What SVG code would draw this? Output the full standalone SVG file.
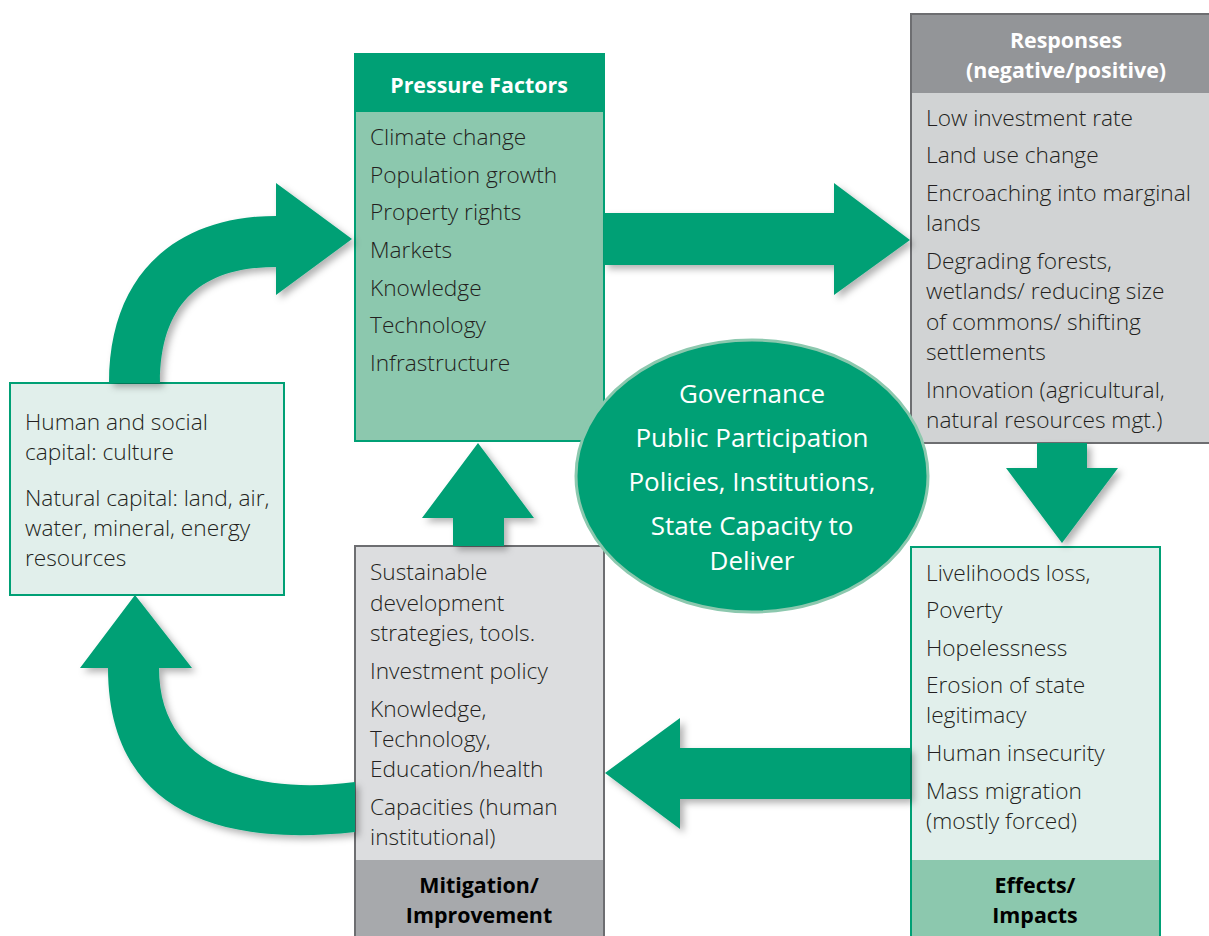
<svg xmlns="http://www.w3.org/2000/svg" width="1209" height="936" viewBox="0 0 1209 936">
<style>
.body{font-family:"Open Sans","Noto Sans","Liberation Sans",sans-serif;font-size:22.7px;font-weight:300;fill:#231f20}
.head{font-family:"Open Sans","Noto Sans","Liberation Sans",sans-serif;font-size:21.4px;font-weight:700;text-anchor:middle}
.white{fill:#ffffff}
.black{fill:#000000}
.gov{font-family:"Open Sans","Noto Sans","Liberation Sans",sans-serif;font-size:26px;fill:#ffffff;text-anchor:middle}
.arrow{fill:#00a075;filter:url(#sh)}
</style>
<defs>
<filter id="sh" x="-20%" y="-20%" width="150%" height="150%">
<feDropShadow dx="4" dy="4" stdDeviation="3.5" flood-color="#000" flood-opacity="0.3"/>
</filter>
</defs>
<rect width="1209" height="936" fill="#ffffff"/>

<g id="pressure">
<rect x="355" y="54" width="249" height="387" fill="#8cc8ae" stroke="#00a075" stroke-width="2"/>
<rect x="355" y="54" width="249" height="58" fill="#00a075"/>
<text class="head white" x="479" y="93">Pressure Factors</text>
<text class="body" x="370" y="145">Climate change</text>
<text class="body" x="370" y="183">Population growth</text>
<text class="body" x="370" y="220">Property rights</text>
<text class="body" x="370" y="258">Markets</text>
<text class="body" x="370" y="296">Knowledge</text>
<text class="body" x="370" y="333">Technology</text>
<text class="body" x="370" y="371">Infrastructure</text>
</g>

<g id="responses">
<rect x="911" y="14" width="300" height="429" fill="#d1d3d4" stroke="#6d6e71" stroke-width="2"/>
<rect x="912" y="15" width="298" height="78" fill="#939598"/>
<text class="head white" x="1066" y="48">Responses</text>
<text class="head white" x="1066" y="78">(negative/positive)</text>
<text class="body" x="926" y="126">Low investment rate</text>
<text class="body" x="926" y="163">Land use change</text>
<text class="body" x="926" y="201">Encroaching into marginal</text>
<text class="body" x="926" y="231">lands</text>
<text class="body" x="926" y="269">Degrading forests,</text>
<text class="body" x="926" y="299">wetlands/ reducing size</text>
<text class="body" x="926" y="330">of commons/ shifting</text>
<text class="body" x="926" y="360">settlements</text>
<text class="body" x="926" y="398">Innovation (agricultural,</text>
<text class="body" x="926" y="428">natural resources mgt.)</text>
</g>

<g id="capital">
<rect x="10" y="383" width="274" height="212" fill="#e1efeb" stroke="#00a075" stroke-width="2"/>
<text class="body" x="25" y="430">Human and social</text>
<text class="body" x="25" y="460">capital: culture</text>
<text class="body" x="25" y="506">Natural capital: land, air,</text>
<text class="body" x="25" y="536">water, mineral, energy</text>
<text class="body" x="25" y="566">resources</text>
</g>

<g id="mitigation">
<rect x="355" y="546" width="249" height="400" fill="#dcdddf" stroke="#6d6e71" stroke-width="2"/>
<rect x="356" y="860" width="247" height="80" fill="#a7a9ac"/>
<text class="body" x="370" y="580">Sustainable</text>
<text class="body" x="370" y="611">development</text>
<text class="body" x="370" y="641">strategies, tools.</text>
<text class="body" x="370" y="679">Investment policy</text>
<text class="body" x="370" y="717">Knowledge,</text>
<text class="body" x="370" y="747">Technology,</text>
<text class="body" x="370" y="777">Education/health</text>
<text class="body" x="370" y="815">Capacities (human</text>
<text class="body" x="370" y="845">institutional)</text>
<text class="head black" x="479" y="893">Mitigation/</text>
<text class="head black" x="479" y="923">Improvement</text>
</g>

<g id="effects">
<rect x="911" y="547" width="249" height="400" fill="#e1efeb" stroke="#00a075" stroke-width="2"/>
<rect x="912" y="860" width="247" height="80" fill="#8cc8ae"/>
<text class="body" x="926" y="581">Livelihoods loss,</text>
<text class="body" x="926" y="618">Poverty</text>
<text class="body" x="926" y="656">Hopelessness</text>
<text class="body" x="926" y="693">Erosion of state</text>
<text class="body" x="926" y="723">legitimacy</text>
<text class="body" x="926" y="761">Human insecurity</text>
<text class="body" x="926" y="799">Mass migration</text>
<text class="body" x="926" y="829">(mostly forced)</text>
<text class="head black" x="1035" y="893">Effects/</text>
<text class="head black" x="1035" y="923">Impacts</text>
</g>

<g id="connectors">
<path class="arrow" d="M109,383 C109,275 175,216 276,216 L276,183 L352,239 L276,295 L276,267 C205,267 160,300 160,383 Z"/>
<path class="arrow" d="M604,213 L834,213 L834,183 L910,240 L834,295 L834,265 L604,265 Z"/>
<path class="arrow" d="M1037,443 L1087,443 L1087,468 L1118,468 L1062,543 L1006,468 L1037,468 Z"/>
<path class="arrow" d="M910,748 L680,748 L680,718 L605,773 L680,829 L680,799 L910,799 Z"/>
<path class="arrow" d="M504,546 L453,546 L453,518 L422,518 L478,443 L534,518 L504,518 Z"/>
<path class="arrow" d="M355,782 C260,795 159,770 159,668 L192,668 L135,595 L80,668 L108,668 C108,790 190,850 355,832 Z"/>
</g>

<g id="governance">
<ellipse cx="752" cy="476" rx="176" ry="136" fill="#00a075" stroke="#8cc8ae" stroke-width="3"/>
<text class="gov" x="752" y="403">Governance</text>
<text class="gov" x="752" y="447">Public Participation</text>
<text class="gov" x="752" y="491">Policies, Institutions,</text>
<text class="gov" x="752" y="535">State Capacity to</text>
<text class="gov" x="752" y="570">Deliver</text>
</g>
</svg>
